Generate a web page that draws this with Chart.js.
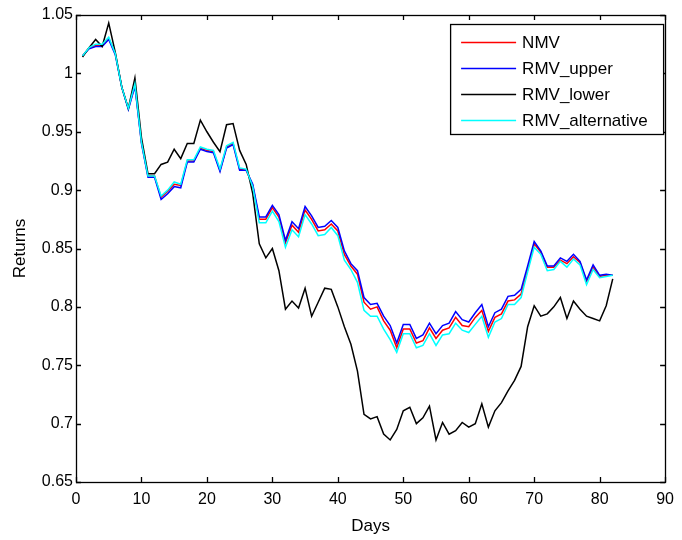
<!DOCTYPE html>
<html>
<head>
<meta charset="utf-8">
<script src="https://cdn.jsdelivr.net/npm/chart.js@4.4.1/dist/chart.umd.min.js"></script>
<style>
  html, body { margin: 0; padding: 0; background: #fff; }
  #wrap { width: 682px; height: 540px; }
</style>
</head>
<body>
<div id="wrap"><canvas id="returnsChart" width="682" height="540"></canvas></div>
<script>
// days on the x axis
const days = [1,2,3,4,5,6,7,8,9,10,11,12,13,14,15,16,17,18,19,20,
  21,22,23,24,25,26,27,28,29,30,31,32,33,34,35,36,37,38,39,40,
  41,42,43,44,45,46,47,48,49,50,51,52,53,54,55,56,57,58,59,60,
  61,62,63,64,65,66,67,68,69,70,71,72,73,74,75,76,77,78,79,80,81,82];

const nmv = [1.015,1.022,1.024,1.024,1.030,1.017,0.988,0.970,0.990,0.941,
  0.912,0.912,0.894,0.899,0.905,0.904,0.925,0.925,0.936,0.934,
  0.933,0.917,0.937,0.940,0.918,0.917,0.904,0.875,0.875,0.885,
  0.877,0.855,0.870,0.864,0.883,0.875,0.865,0.866,0.871,0.865,
  0.845,0.835,0.828,0.804,0.798,0.800,0.788,0.780,0.765,0.781,
  0.781,0.769,0.771,0.782,0.773,0.780,0.782,0.791,0.784,0.783,
  0.791,0.797,0.779,0.791,0.794,0.805,0.806,0.811,0.832,0.854,
  0.847,0.834,0.834,0.840,0.837,0.843,0.838,0.822,0.834,0.826,0.827,0.827];

const rmvUpper = [1.015,1.021,1.023,1.023,1.029,1.016,0.988,0.969,0.989,0.940,
  0.911,0.911,0.892,0.897,0.903,0.902,0.924,0.924,0.935,0.933,
  0.932,0.916,0.936,0.939,0.917,0.917,0.905,0.877,0.877,0.887,
  0.879,0.857,0.873,0.867,0.886,0.878,0.868,0.869,0.874,0.868,
  0.848,0.837,0.831,0.808,0.802,0.803,0.792,0.784,0.769,0.785,
  0.785,0.773,0.776,0.786,0.777,0.784,0.786,0.796,0.789,0.787,
  0.795,0.802,0.783,0.795,0.798,0.809,0.810,0.815,0.835,0.856,
  0.848,0.835,0.835,0.842,0.839,0.845,0.839,0.823,0.836,0.827,0.828,0.827];

const rmvLower = [1.014,1.022,1.029,1.023,1.043,1.018,0.988,0.970,0.996,0.945,
  0.914,0.914,0.922,0.924,0.935,0.927,0.940,0.940,0.960,0.950,
  0.941,0.933,0.956,0.957,0.934,0.922,0.897,0.854,0.842,0.850,
  0.831,0.798,0.805,0.799,0.816,0.792,0.804,0.816,0.815,0.800,
  0.783,0.768,0.745,0.708,0.704,0.706,0.691,0.686,0.695,0.711,
  0.714,0.700,0.705,0.715,0.686,0.701,0.691,0.694,0.701,0.697,
  0.700,0.717,0.697,0.711,0.718,0.728,0.737,0.749,0.783,0.801,
  0.792,0.794,0.800,0.808,0.790,0.805,0.798,0.792,0.790,0.788,0.801,0.824];

const rmvAlternative = [1.015,1.022,1.025,1.025,1.031,1.017,0.988,0.970,0.991,0.941,
  0.912,0.912,0.895,0.900,0.907,0.905,0.926,0.926,0.937,0.935,
  0.934,0.918,0.938,0.941,0.919,0.918,0.903,0.872,0.872,0.882,
  0.873,0.851,0.866,0.860,0.879,0.871,0.861,0.862,0.868,0.861,
  0.840,0.832,0.821,0.797,0.792,0.792,0.781,0.772,0.761,0.777,
  0.777,0.765,0.767,0.777,0.767,0.776,0.777,0.786,0.780,0.778,
  0.785,0.792,0.774,0.787,0.790,0.802,0.802,0.808,0.830,0.851,
  0.845,0.831,0.832,0.839,0.834,0.841,0.836,0.819,0.832,0.825,0.826,0.827];

const seriesNames = ["NMV", "RMV_upper", "RMV_lower", "RMV_alternative"];
const seriesColors = ["#ff0000", "#0000ff", "#000000", "#00ffff"];
const yTickLabels = ["0.65","0.7","0.75","0.8","0.85","0.9","0.95","1","1.05"];

const FONT = "'Liberation Sans', Arial, Helvetica, sans-serif";

function pts(vals) {
  return vals.map((v, i) => ({ x: days[i], y: v }));
}

// box around the axes, ticks pointing inward, legend inside top right
const matlabAxes = {
  id: 'matlabAxes',
  afterDraw(chart) {
    const ctx = chart.ctx;
    const a = chart.chartArea;
    const xs = chart.scales.x, ys = chart.scales.y;
    const tl = 5;
    ctx.save();
    ctx.strokeStyle = '#000';
    ctx.lineWidth = 1.3;
    ctx.beginPath();
    xs.ticks.forEach(t => {
      const px = Math.round(xs.getPixelForValue(t.value)) + 0.5;
      ctx.moveTo(px, a.bottom); ctx.lineTo(px, a.bottom - tl);
      ctx.moveTo(px, a.top); ctx.lineTo(px, a.top + tl);
    });
    ys.ticks.forEach(t => {
      const py = Math.round(ys.getPixelForValue(t.value)) + 0.5;
      ctx.moveTo(a.left, py); ctx.lineTo(a.left + tl, py);
      ctx.moveTo(a.right, py); ctx.lineTo(a.right - tl, py);
    });
    ctx.stroke();
    ctx.strokeRect(Math.round(a.left) + 0.5, Math.round(a.top) + 0.5,
      Math.round(a.right - a.left), Math.round(a.bottom - a.top));

    // legend
    const bx = a.right - 215, by = a.top + 9, bw = 213, bh = 110;
    ctx.fillStyle = '#fff';
    ctx.fillRect(bx, by, bw, bh);
    ctx.strokeRect(bx + 0.5, by + 0.5, bw, bh);
    ctx.font = '17px ' + FONT;
    ctx.textBaseline = 'middle';
    ctx.textAlign = 'left';
    chart.data.datasets.forEach((ds, i) => {
      const y = by + 18 + i * 26;
      ctx.strokeStyle = ds.borderColor;
      ctx.lineWidth = 1.3;
      ctx.beginPath();
      ctx.moveTo(bx + 11, y + 0.5);
      ctx.lineTo(bx + 66, y + 0.5);
      ctx.stroke();
      ctx.fillStyle = '#000';
      ctx.fillText(ds.label, bx + 72, y + 1);
    });
    ctx.restore();
  }
};

const allSeries = [nmv, rmvUpper, rmvLower, rmvAlternative];
const drawOrder = [4, 3, 2, 1];

new Chart(document.getElementById('returnsChart'), {
  type: 'line',
  data: {
    datasets: allSeries.map((vals, i) => ({
      label: seriesNames[i],
      data: pts(vals),
      borderColor: seriesColors[i],
      backgroundColor: seriesColors[i],
      borderWidth: 1.5,
      pointRadius: 0,
      tension: 0,
      fill: false,
      order: drawOrder[i]
    }))
  },
  options: {
    responsive: false,
    animation: false,
    layout: { padding: { top: 15, right: 11, left: 0, bottom: 0 } },
    plugins: {
      legend: { display: false },
      tooltip: { enabled: false }
    },
    scales: {
      x: {
        type: 'linear',
        min: 0, max: 90,
        afterFit(scale) { scale.height = 58; },
        grid: { display: false, drawTicks: false },
        border: { display: false },
        ticks: { stepSize: 10, padding: 8, color: '#000', font: { family: FONT, size: 16 }, maxRotation: 0 },
        title: { display: true, text: 'Days', color: '#000', font: { family: FONT, size: 17 }, padding: { top: 0, bottom: 3 } }
      },
      y: {
        min: 0.65, max: 1.05,
        afterFit(scale) { scale.width = 76; },
        grid: { display: false, drawTicks: false },
        border: { display: false },
        ticks: {
          stepSize: 0.05, padding: 3, color: '#000', font: { family: FONT, size: 16 },
          callback: (v, i) => yTickLabels[i]
        },
        title: { display: true, text: 'Returns', color: '#000', font: { family: FONT, size: 17 }, padding: { top: 10, bottom: 0 } }
      }
    }
  },
  plugins: [matlabAxes]
});
</script>
</body>
</html>
